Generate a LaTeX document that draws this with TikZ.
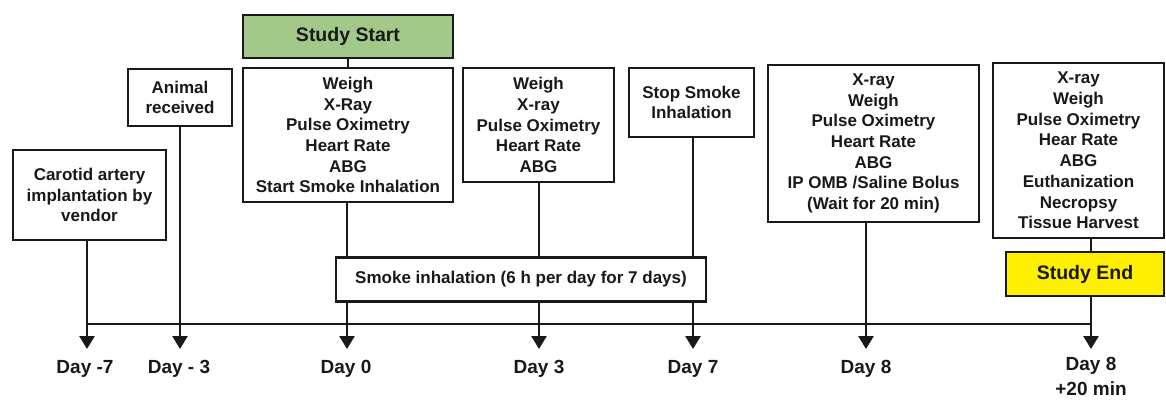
\documentclass[tikz,border=0pt]{standalone}
\usepackage{fontspec}
\setmainfont{Liberation Sans}
\usetikzlibrary{arrows.meta}
\definecolor{boxgreen}{RGB}{163,201,138}
\definecolor{boxyellow}{RGB}{255,240,0}
\definecolor{ink}{RGB}{25,25,25}
\begin{document}
\begin{tikzpicture}[x=1pt,y=-1pt,
  event/.style={draw=ink, line width=2.6pt, fill=white, inner sep=0pt, align=center,
    text=ink, font=\fontsize{17}{20.7}\selectfont\bfseries},
  milestone/.style={event, font=\fontsize{19.5}{23}\selectfont\bfseries},
  conn/.style={draw=ink, line width=2.6pt},
  tick/.style={conn, -{Triangle[width=15pt,length=13pt]}},
  daylabel/.style={text=ink, align=center, inner sep=0pt, font=\fontsize{19}{25}\selectfont\bfseries}]
\clip (0,0) rectangle (1166,400);
\fill[white] (0,0) rectangle (1166,400);
% boxes
\node[event, minimum width=153pt, minimum height=90pt] (carotid) at (89.5,195) {Carotid artery\\implantation by\\vendor};
\node[event, minimum width=104pt, minimum height=57pt] (animal) at (180,97.5) {Animal\\received};
\node[milestone, fill=boxgreen, minimum width=210pt, minimum height=43pt] (start) at (348,36.5) {Study Start};
\node[event, minimum width=210pt, minimum height=134pt] (day0) at (348,135) {Weigh\\X-Ray\\Pulse Oximetry\\Heart Rate\\ABG\\Start Smoke Inhalation};
\node[event, minimum width=151pt, minimum height=114pt] (day3) at (538.5,125) {Weigh\\X-ray\\Pulse Oximetry\\Heart Rate\\ABG};
\node[event, minimum width=125pt, minimum height=69pt] (stop) at (691.5,102.5) {Stop Smoke\\Inhalation};
\node[event, minimum width=211pt, minimum height=157pt] (day8) at (873.5,143.5) {X-ray\\Weigh\\Pulse Oximetry\\Heart Rate\\ABG\\IP OMB /Saline Bolus\\(Wait for 20 min)};
\node[event, minimum width=171pt, minimum height=175pt] (last) at (1078.5,150.5) {X-ray\\Weigh\\Pulse Oximetry\\Hear Rate\\ABG\\Euthanization\\Necropsy\\Tissue Harvest};
\node[milestone, fill=boxyellow, minimum width=158pt, minimum height=44pt] (end) at (1085,274) {Study End};
% tick end points
\coordinate (tm7) at (87,349);
\coordinate (tm3) at (180,349);
\coordinate (t0) at (347,349);
\coordinate (t3) at (539,349);
\coordinate (t7) at (693,349);
\coordinate (t8) at (866,349);
\coordinate (t8b) at (1091,349);
\coordinate (hl) at (87,324);
\coordinate (hr) at (1091,324);
% connectors
\draw[conn] (start) -- (day0);
\draw[conn] (last.south -| t8b) -- (end.north -| t8b);
\draw[conn] (hl) -- (hr);
\draw[tick] (carotid.south -| tm7) -- (tm7);
\draw[tick] (animal.south -| tm3) -- (tm3);
\draw[tick] (day0.south -| t0) -- (t0);
\draw[tick] (day3.south -| t3) -- (t3);
\draw[tick] (stop.south -| t7) -- (t7);
\draw[tick] (day8.south -| t8) -- (t8);
\draw[tick] (end.south -| t8b) -- (t8b);
% smoke inhalation bar (over the lines)
\node[event, minimum width=370pt, minimum height=44pt] (smoke) at (521,279.5) {Smoke inhalation (6 h per day for 7 days)};
% day labels
\node[daylabel] (lm7) at (85,369) {Day -7};
\node[daylabel] (lm3) at (179,369) {Day - 3};
\node[daylabel] (l0) at (346,369) {Day 0};
\node[daylabel] (l3) at (539,369) {Day 3};
\node[daylabel] (l7) at (693,369) {Day 7};
\node[daylabel] (l8) at (866,369) {Day 8};
\node[daylabel, anchor=north] (l8b) at (1091,357) {Day 8\\+20 min};
\end{tikzpicture}
\end{document}
